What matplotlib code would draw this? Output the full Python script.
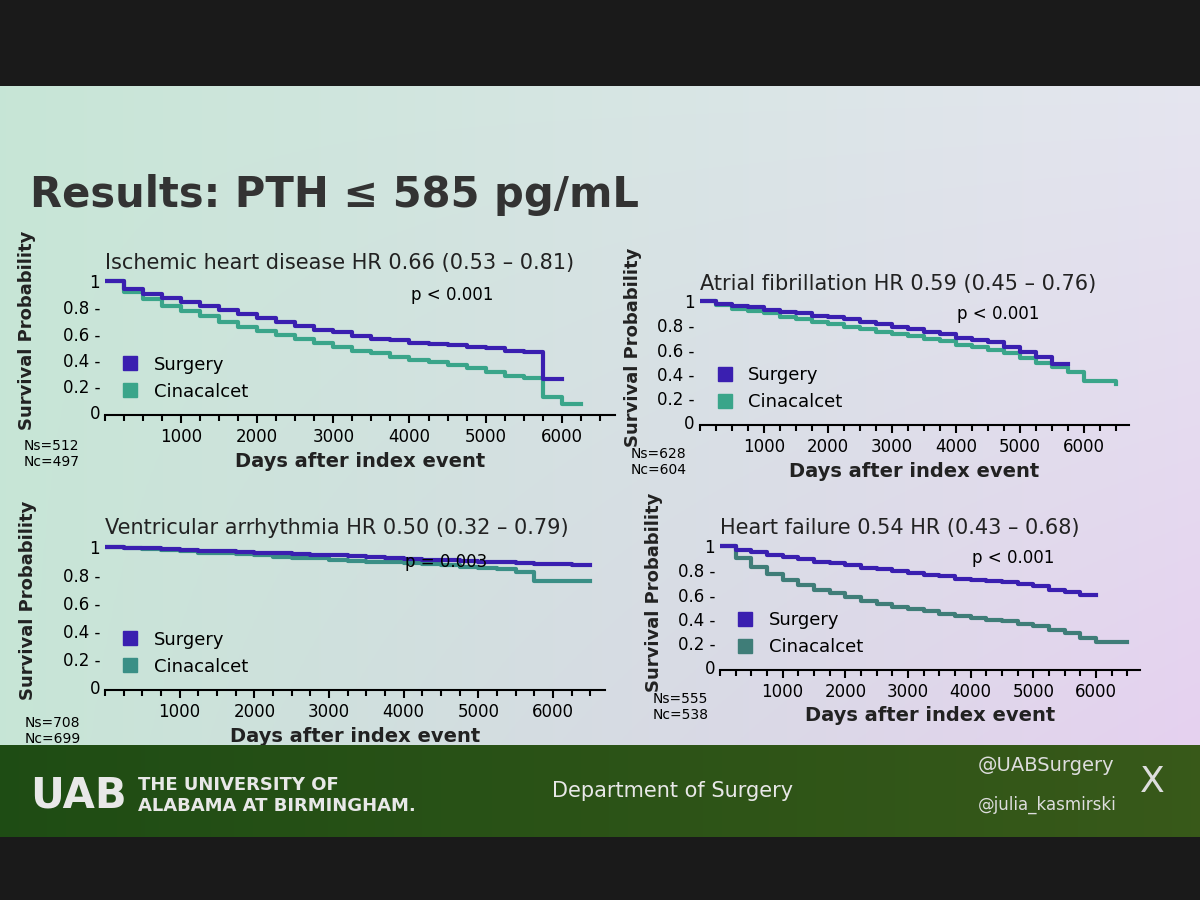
import matplotlib.pyplot as plt
import numpy as np

days = list(range(0, 6750, 250))  # 0..6500

titles = ["Ischemic heart disease HR 0.66 (0.53 \u2013 0.81)",
          "Atrial fibrillation HR 0.59 (0.45 \u2013 0.76)",
          "Ventricular arrhythmia HR 0.50 (0.32 \u2013 0.79)",
          "Heart failure 0.54 HR (0.43 \u2013 0.68)"]
pvals = ["p < 0.001", "p < 0.001", "p = 0.003", "p < 0.001"]
ns_labels = ["Ns=512\nNc=497", "Ns=628\nNc=604", "Ns=708\nNc=699", "Ns=555\nNc=538"]

# survival estimates read every 250 days
surgery = [
    [1, .94, .90, .87, .84, .81, .78, .75, .72, .69, .66, .63, .61, .58, .56, .55, .53, .52, .51, .50, .49, .47, .46, .25, .25],
    [1, .98, .96, .95, .93, .91, .90, .88, .87, .85, .83, .81, .79, .77, .75, .73, .70, .68, .66, .62, .58, .54, .48, .48],
    [1, .995, .99, .985, .98, .975, .97, .965, .96, .955, .95, .945, .94, .935, .93, .92, .915, .91, .905, .90, .895, .89, .885, .88, .88, .875, .875],
    [1, .97, .95, .93, .91, .89, .87, .86, .84, .82, .81, .79, .78, .76, .75, .73, .72, .71, .70, .69, .67, .64, .62, .60, .60],
]
cinacalcet = [
    [1, .92, .86, .81, .77, .73, .69, .65, .62, .59, .56, .53, .50, .47, .45, .42, .40, .38, .36, .34, .31, .28, .26, .12, .06, .06],
    [1, .97, .94, .92, .90, .87, .85, .83, .81, .79, .77, .75, .73, .71, .69, .67, .64, .62, .60, .57, .53, .49, .46, .42, .34, .34, .32],
    [1, .99, .985, .98, .97, .96, .955, .95, .94, .93, .925, .92, .91, .90, .895, .89, .885, .88, .87, .86, .85, .84, .82, .76, .76, .76, .76],
    [1, .90, .83, .77, .72, .68, .64, .61, .58, .55, .52, .50, .48, .46, .44, .42, .41, .39, .38, .36, .34, .31, .28, .24, .21, .21, .21],
]

surg_col = "#3a1fb0"
cin_col = ["#3aa58a", "#3aa58a", "#3a8f86", "#3f7d78"]

fig = plt.figure(figsize=(12, 9), dpi=100, facecolor="#1a1a1a")
slide = fig.add_axes([0, 0.172, 1, 0.733])
slide.set_xlim(0, 1); slide.set_ylim(0, 1); slide.axis("off")
grad = np.linspace(0, 1, 256).reshape(1, -1)
vgrad = np.linspace(1, 0, 256).reshape(-1, 1)
r = 0.78 + 0.12 * grad + 0.0 * vgrad
g = 0.90 - 0.08 * grad * (1 - vgrad) + 0.0 * vgrad
b = 0.84 + 0.10 * grad + 0.0 * vgrad
slide.imshow(np.dstack([r, g, b]), extent=[0, 1, 0, 1], aspect="auto")

fig.text(0.025, 0.77, "Results: PTH \u2264 585 pg/mL", fontsize=30, weight="bold", color="#333333")

boxes = [[0.0875, 0.539, 0.425, 0.156], [0.583, 0.528, 0.358, 0.144],
         [0.0875, 0.233, 0.417, 0.167], [0.6, 0.256, 0.35, 0.144]]
for i, bx in enumerate(boxes):
    ax = fig.add_axes(bx)
    ax.set_facecolor("none")
    x_s = days[:len(surgery[i])]
    x_c = days[:len(cinacalcet[i])]
    ax.step(x_c, cinacalcet[i], where="post", color=cin_col[i], lw=3)
    ax.step(x_s, surgery[i], where="post", color=surg_col, lw=3)
    ax.set_xlim(0, 6700); ax.set_ylim(-0.02, 1.05)
    ax.set_xticks([1000, 2000, 3000, 4000, 5000, 6000])
    ax.set_xticks(np.arange(0, 6700, 250), minor=True)
    ax.set_yticks([0, 0.2, 0.4, 0.6, 0.8, 1])
    ax.set_yticklabels(["0", "0.2 -", "0.4 -", "0.6 -", "0.8 -", "1"])
    ax.tick_params(axis="y", length=0, labelsize=12)
    ax.tick_params(axis="x", labelsize=12, length=6, width=1.5)
    ax.tick_params(axis="x", which="minor", length=4, width=1.5)
    ax.spines["bottom"].set_linewidth(1.5)
    for s in ["top", "right", "left"]:
        ax.spines[s].set_visible(False)
    ax.set_xlabel("Days after index event", fontsize=14, weight="bold", color="#222222")
    ax.set_ylabel("Survival Probability", fontsize=13, weight="bold", color="#222222")
    ax.yaxis.set_label_coords(-0.135, 0.6)
    ax.set_title(titles[i], fontsize=15, loc="left", color="#222222", pad=4)
    ax.text(0.6, 0.82, pvals[i], transform=ax.transAxes, fontsize=12)
    ax.plot([], [], "s", color=surg_col, ms=10, label="Surgery")
    ax.plot([], [], "s", color=cin_col[i], ms=10, label="Cinacalcet")
    ax.legend(loc="lower left", bbox_to_anchor=(0.0, 0.05), frameon=False, fontsize=13,
              handletextpad=0.3, borderaxespad=0)
    ax.text(-0.16, -0.17, ns_labels[i], transform=ax.transAxes, fontsize=10, va="top")

foot = fig.add_axes([0, 0.07, 1, 0.102])
foot.set_xlim(0, 1); foot.set_ylim(0, 1); foot.axis("off")
foot.imshow(np.dstack([0.12 + 0.1 * grad, 0.3 + 0.05 * grad, 0.08 + 0.02 * grad]),
            extent=[0, 1, 0, 1], aspect="auto")
foot.text(0.025, 0.45, "UAB", fontsize=30, weight="bold", color="#e8e8e8", va="center")
foot.text(0.115, 0.45, "THE UNIVERSITY OF\nALABAMA AT BIRMINGHAM.", fontsize=13,
          weight="bold", color="#e8e8e8", va="center")
foot.text(0.46, 0.5, "Department of Surgery", fontsize=15, color="#e8e8e8", va="center")
foot.text(0.815, 0.78, "@UABSurgery", fontsize=14, color="#dddddd", va="center")
foot.text(0.815, 0.35, "@julia_kasmirski", fontsize=12, color="#dddddd", va="center")
foot.text(0.95, 0.6, "X", fontsize=26, color="#dddddd", va="center")

fig.savefig("out.png", dpi=100, facecolor=fig.get_facecolor())
